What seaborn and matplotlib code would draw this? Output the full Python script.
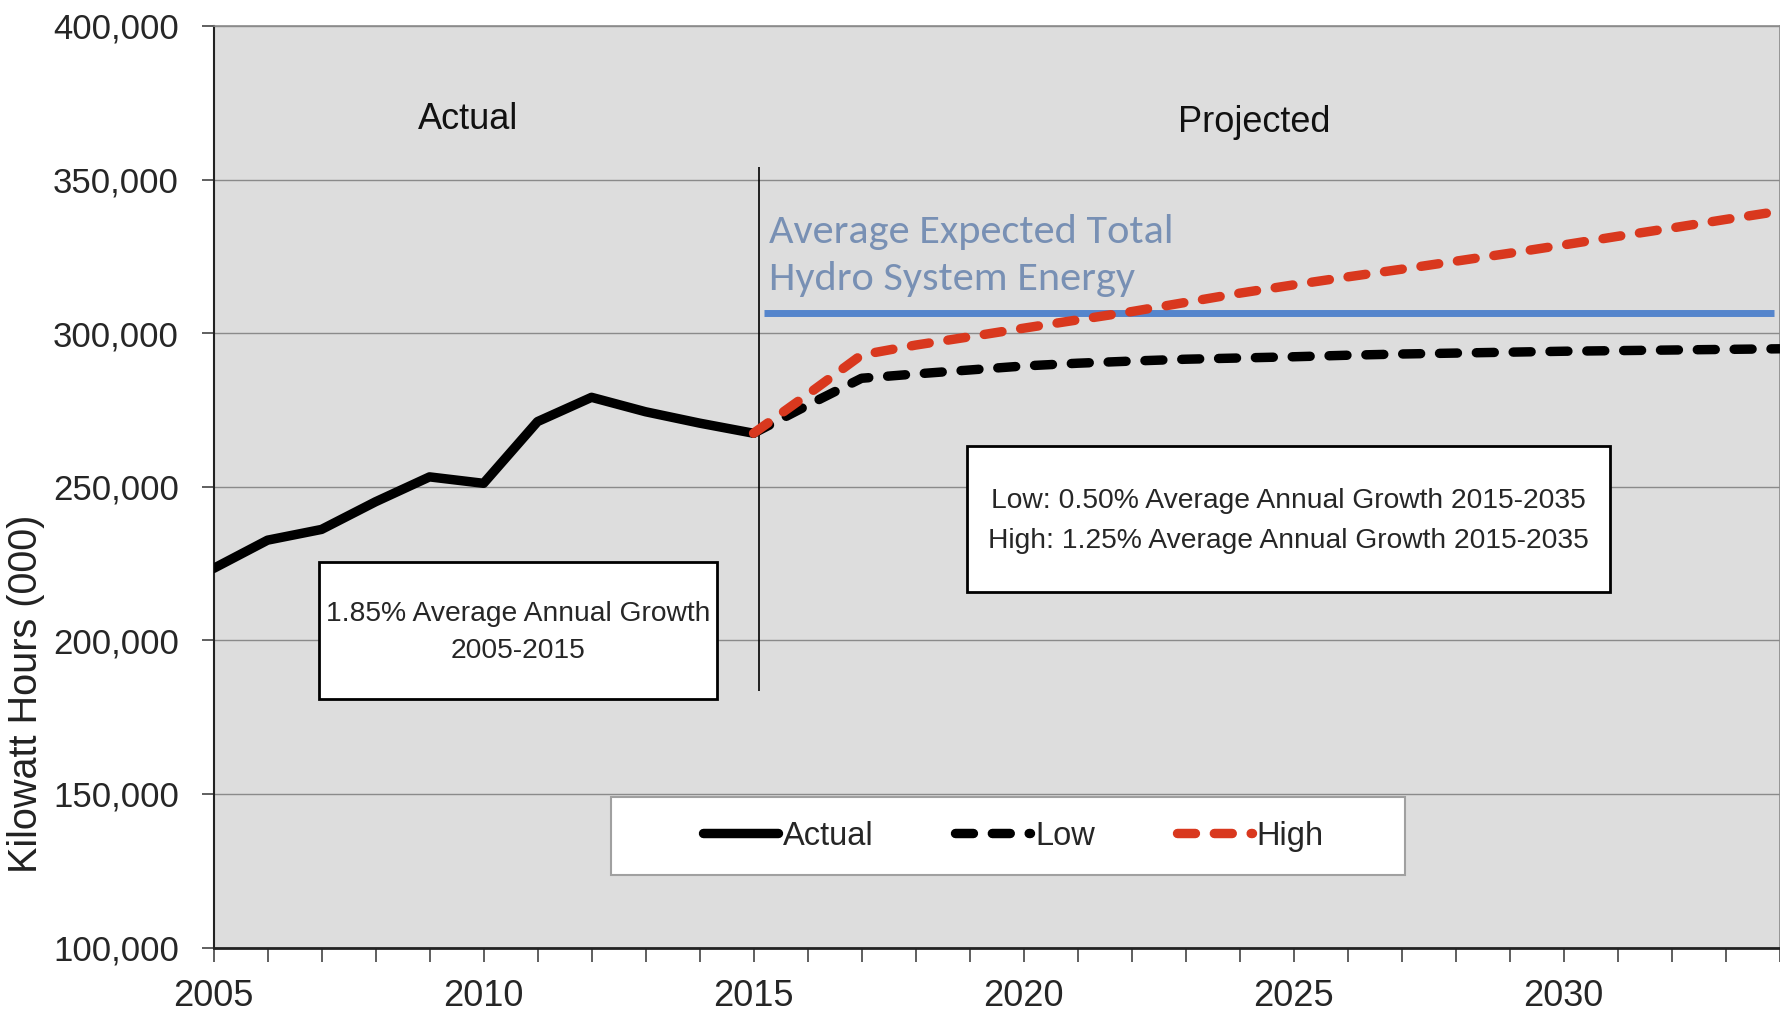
import numpy as np
import pandas as pd
import matplotlib
matplotlib.use("Agg")
import matplotlib.pyplot as plt
import seaborn as sns
from matplotlib.patches import Rectangle
from matplotlib.ticker import FuncFormatter, MultipleLocator

# Annual energy, thousands of kWh
ACTUAL_YEARS = list(range(2005, 2016))
ACTUAL_KWH = [223400, 232600, 236100, 245100, 253200, 251100,
              271200, 279100, 274400, 270700, 267400]

PROJ_YEARS = list(range(2015, 2035))
LOW_KWH = [267400, 276500, 285300, 286700, 288000, 289300, 290200, 290900,
           291500, 291900, 292300, 292800, 293200, 293500, 293800, 294100,
           294300, 294500, 294700, 294900]
HIGH_KWH = [267400, 280000, 292900, 296100, 298800, 301600, 304300, 307000,
            310000, 313000, 315700, 318300, 320800, 323400, 326000, 328700,
            331500, 334200, 337000, 339700]

HYDRO_AVG = 306500
HYDRO_START, HYDRO_END = 2015.2, 2033.9
DIVIDER_YEAR = 2015.1
DIVIDER_LOW, DIVIDER_HIGH = 183600, 354000

Y_TICKS = [100000, 150000, 200000, 250000, 300000, 350000, 400000]
X_TICKS = [2005, 2010, 2015, 2020, 2025, 2030]

SANS = ["Liberation Sans", "DejaVu Sans"]
CALIBRI = ["Carlito", "Lato", "DejaVu Sans"]

sns.set_theme(style="white")
plt.rcParams["font.family"] = SANS

fig = plt.figure(figsize=(17.81, 10.16), dpi=100)
ax = fig.add_axes([0.1199, 0.0674, 0.8793, 0.9071])
ax.set_facecolor("#dddddd")

dash = (0, (1.9, 2.0))

# reference lines first so the series sit on top
ax.vlines(DIVIDER_YEAR, DIVIDER_LOW, DIVIDER_HIGH, color="black", lw=1.2, zorder=2)
ax.hlines(HYDRO_AVG, HYDRO_START, HYDRO_END, color="#5585cc", lw=5, zorder=2)

sns.lineplot(x=ACTUAL_YEARS, y=ACTUAL_KWH, ax=ax, color="black", lw=6.8,
             label="Actual", solid_capstyle="round", solid_joinstyle="round", zorder=3)
sns.lineplot(x=PROJ_YEARS, y=LOW_KWH, ax=ax, color="black", lw=6.8, linestyle=dash,
             label="Low", dash_capstyle="round", zorder=3)
sns.lineplot(x=PROJ_YEARS, y=HIGH_KWH, ax=ax, color="#d9381e", lw=6.8, linestyle=dash,
             label="High", dash_capstyle="round", zorder=4)

ax.set_xlim(2005, 2034)
ax.set_ylim(100000, 400000)
ax.set_xticks(X_TICKS)
ax.xaxis.set_minor_locator(MultipleLocator(1))
ax.set_yticks(Y_TICKS)
ax.yaxis.set_major_formatter(FuncFormatter(lambda v, p: f"{int(v):,}"))
ax.set_xlabel("")

ax.grid(axis="y", color="#8a8a8a", lw=1.0)
ax.grid(axis="x", visible=False)
ax.set_axisbelow(True)

ax.tick_params(axis="x", which="both", direction="out", length=10, width=1.2,
               color="#444444", bottom=True, labelsize=26, pad=13)
ax.tick_params(axis="y", direction="out", length=9, width=1.2, color="#444444",
               left=True, labelsize=25, pad=16)

for side in ["top", "right"]:
    ax.spines[side].set_color("#8a8a8a")
    ax.spines[side].set_linewidth(1.2)
ax.spines["left"].set_color("#222222")
ax.spines["left"].set_linewidth(1.5)
ax.spines["bottom"].set_color("#222222")
ax.spines["bottom"].set_linewidth(2.0)

ax.set_ylabel("Kilowatt Hours (000)", fontsize=28.5, color="#222222")
ax.yaxis.set_label_coords(-0.1075, 0.275)

# section headers
ax.text(0.1625, 0.8987, "Actual", transform=ax.transAxes, ha="center", va="center",
        fontsize=26, color="#111111")
ax.text(0.6644, 0.895, "Projected", transform=ax.transAxes, ha="center", va="center",
        fontsize=26, color="#111111")

ax.text(0.3547, 0.7507, "Average Expected Total\nHydro System Energy",
        transform=ax.transAxes, ha="left", va="center", fontsize=30.5,
        family=CALIBRI, color="#7890b4", linespacing=1.38, zorder=5)

# growth boxes
ax.add_patch(Rectangle((0.0675, 0.2702), 0.3213 - 0.0675, 0.4181 - 0.2702,
                       transform=ax.transAxes, fc="white", ec="black", lw=2, zorder=5))
ax.text(0.1944, 0.3416, "1.85% Average Annual Growth\n2005-2015", transform=ax.transAxes,
        ha="center", va="center", fontsize=20.3, linespacing=1.57, zorder=6)

ax.add_patch(Rectangle((0.4809, 0.3860), 0.8914 - 0.4809, 0.5437 - 0.3860,
                       transform=ax.transAxes, fc="white", ec="black", lw=2, zorder=5))
ax.text(0.6861, 0.4630,
        "Low: 0.50% Average Annual Growth 2015-2035\nHigh: 1.25% Average Annual Growth 2015-2035",
        transform=ax.transAxes, ha="center", va="center", fontsize=20.3,
        linespacing=1.68, zorder=6)

# legend with a hand-placed frame
ax.add_patch(Rectangle((0.2538, 0.0791), 0.7608 - 0.2538, 0.1629 - 0.0791,
                       transform=ax.transAxes, fc="white", ec="#a0a0a0", lw=1.5, zorder=5))
leg = ax.legend(loc="center", bbox_to_anchor=(0.5107, 0.121), ncol=3, frameon=False,
                fontsize=23.5, handlelength=2.3, handletextpad=0.15, columnspacing=2.5)
leg.set_zorder(6)

fig.savefig("out.png", dpi=100)
